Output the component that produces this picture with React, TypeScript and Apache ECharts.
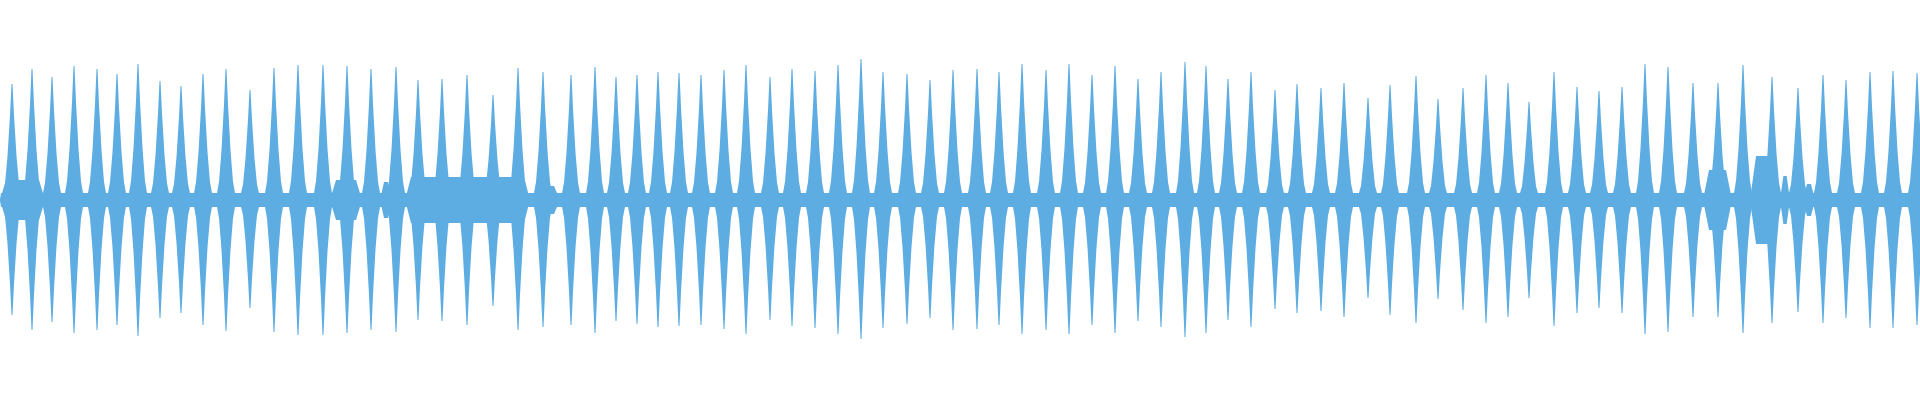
import React, { useEffect, useRef } from "react";
import * as echarts from "echarts";

// Beat positions (x, in horizontal units of the recording, 0..1920) and peak amplitudes (-1..1)
const beatTimes = [
  12, 32, 52, 74, 97, 117, 138, 160, 181, 203, 226, 250, 274, 298, 323, 347, 371, 396, 418, 442,
  467, 493, 518, 543, 571, 595, 616, 637, 658, 679, 701, 724, 746, 770, 792, 815, 838, 861, 883, 907,
  930, 953, 977, 999, 1022, 1046, 1069, 1092, 1115, 1138, 1161, 1185, 1206, 1228, 1251, 1275, 1297, 1321, 1344, 1368,
  1390, 1416, 1438, 1463, 1486, 1508, 1529, 1554, 1577, 1599, 1622, 1645, 1668, 1693, 1718, 1743, 1772, 1798, 1823, 1846,
  1870, 1893, 1917,
];
const beatMax = [
  0.58, 0.655, 0.615, 0.67, 0.655, 0.63, 0.68, 0.595, 0.57, 0.63, 0.655, 0.55, 0.66, 0.675, 0.675, 0.67, 0.655, 0.665, 0.6, 0.605,
  0.625, 0.525, 0.66, 0.64, 0.625, 0.665, 0.615, 0.625, 0.64, 0.635, 0.625, 0.65, 0.675, 0.615, 0.655, 0.645, 0.675, 0.705, 0.64, 0.63,
  0.6, 0.65, 0.655, 0.64, 0.68, 0.65, 0.68, 0.625, 0.67, 0.605, 0.64, 0.69, 0.67, 0.605, 0.64, 0.55, 0.58, 0.56, 0.585, 0.51,
  0.575, 0.62, 0.505, 0.56, 0.625, 0.585, 0.49, 0.64, 0.565, 0.545, 0.565, 0.68, 0.665, 0.585, 0.585, 0.675, 0.615, 0.56, 0.625, 0.6,
  0.64, 0.645, 0.635,
];
const beatMin = [
  -0.575, -0.65, -0.61, -0.665, -0.65, -0.625, -0.68, -0.59, -0.565, -0.625, -0.655, -0.54, -0.66, -0.675, -0.675, -0.665, -0.65, -0.66, -0.6, -0.605,
  -0.625, -0.53, -0.65, -0.635, -0.625, -0.665, -0.605, -0.62, -0.635, -0.63, -0.625, -0.645, -0.67, -0.6, -0.63, -0.64, -0.67, -0.695, -0.64, -0.62,
  -0.59, -0.65, -0.645, -0.625, -0.67, -0.65, -0.67, -0.625, -0.665, -0.605, -0.635, -0.685, -0.665, -0.6, -0.635, -0.545, -0.565, -0.555, -0.585, -0.49,
  -0.575, -0.615, -0.495, -0.55, -0.615, -0.585, -0.49, -0.63, -0.565, -0.54, -0.565, -0.67, -0.66, -0.585, -0.585, -0.665, -0.615, -0.56, -0.615, -0.59,
  -0.64, -0.64, -0.625,
];

// Stretches of louder background noise between beats
const noiseStart = [0, 330, 380, 405, 540, 1703, 1750, 1780, 1803];
const noiseEnd = [45, 362, 392, 530, 560, 1732, 1778, 1790, 1815];
const noiseAmp = [0.1, 0.1, 0.09, 0.115, 0.07, 0.15, 0.22, 0.12, 0.08];

// Quiet floor over the whole recording
const floorStart = [0];
const floorEnd = [1920];
const floorAmp = [0.035];

const COLOR = "#5DADE2";
const FLOOR = 0.035;
// envelope profile of one beat: fraction of the peak amplitude -> half width (x units)
const PROFILE_F = [0, 0.14, 0.38, 0.73, 1];
const PROFILE_HW = [9, 7, 4.5, 2, 0.5];

export default function App() {
  const ref = useRef<HTMLDivElement>(null);

  useEffect(() => {
    if (!ref.current) return;
    const chart = echarts.init(ref.current, undefined, { renderer: "svg" });

    const beatData = beatTimes.map((t, i) => [t, beatMax[i], beatMin[i]]);
    const noiseData = noiseStart.map((s, i) => [s, noiseEnd[i], noiseAmp[i]]);
    const floorData = floorStart.map((s, i) => [s, floorEnd[i], floorAmp[i]]);

    const bandRender = (taper: number) => (params: any, api: any) => {
      const x0 = api.value(0);
      const x1 = api.value(1);
      const a = api.value(2);
      const p0 = api.coord([x0, 0]);
      const p1 = api.coord([x1, 0]);
      const top = api.coord([x0, a])[1];
      const bot = api.coord([x0, -a])[1];
      const tp = Math.min(taper, (p1[0] - p0[0]) / 3);
      return {
        type: "polygon",
        shape: {
          points: [
            [p0[0], p0[1]],
            [p0[0] + tp, top],
            [p1[0] - tp, top],
            [p1[0], p1[1]],
            [p1[0] - tp, bot],
            [p0[0] + tp, bot],
          ],
        },
        style: { fill: COLOR },
      };
    };

    chart.setOption({
      animation: false,
      grid: { left: 0, right: 0, top: 0, bottom: 0 },
      xAxis: { type: "value", min: 0, max: 1920, show: false },
      yAxis: { type: "value", min: -1, max: 1, show: false },
      series: [
        {
          type: "custom",
          data: floorData,
          encode: { x: [0, 1], y: [2] },
          renderItem: bandRender(1),
          silent: true,
        },
        {
          type: "custom",
          data: noiseData,
          encode: { x: [0, 1], y: [2] },
          renderItem: bandRender(6),
          silent: true,
        },
        {
          type: "custom",
          data: beatData,
          encode: { x: [0], y: [1, 2] },
          silent: true,
          renderItem: (params: any, api: any) => {
            const x = api.value(0);
            const hi = api.value(1);
            const lo = api.value(2);
            const pts: number[][] = [];
            const upper: number[][] = [];
            const lower: number[][] = [];
            for (let k = 0; k < PROFILE_F.length; k++) {
              const f = PROFILE_F[k];
              const yu = Math.max(FLOOR, hi * f);
              const yl = Math.min(-FLOOR, lo * f);
              const hw = PROFILE_HW[k];
              upper.push(api.coord([x - hw, yu]));
              lower.push(api.coord([x - hw, yl]));
              upper.push(api.coord([x + hw, yu]));
              lower.push(api.coord([x + hw, yl]));
            }
            for (let k = 0; k < PROFILE_F.length; k++) pts.push(upper[2 * k]);
            for (let k = PROFILE_F.length - 1; k >= 0; k--) pts.push(upper[2 * k + 1]);
            for (let k = 0; k < PROFILE_F.length; k++) pts.push(lower[2 * k + 1]);
            for (let k = PROFILE_F.length - 1; k >= 0; k--) pts.push(lower[2 * k]);
            return {
              type: "polygon",
              shape: { points: pts },
              style: { fill: COLOR },
            };
          },
        },
      ],
    });

    return () => chart.dispose();
  }, []);

  return (
    <div
      ref={ref}
      style={{ position: "fixed", left: 0, top: 0, width: 1920, height: 400, background: "#fff" }}
    />
  );
}
